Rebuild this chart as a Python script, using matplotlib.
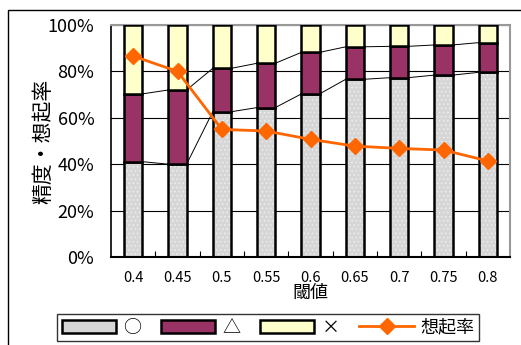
import matplotlib
matplotlib.use("Agg")
from matplotlib import pyplot as plt
from matplotlib.patches import Patch, Rectangle
from matplotlib.lines import Line2D
import numpy as np

plt.rcParams['font.family'] = ['Noto Sans CJK JP', 'DejaVu Sans']
plt.rcParams['hatch.linewidth'] = 0.6

# 閾値ごとの内訳（%）
thresholds = ['0.4', '0.45', '0.5', '0.55', '0.6', '0.65', '0.7', '0.75', '0.8']
maru = [41.1, 40.0, 62.6, 64.4, 70.3, 76.6, 77.3, 78.4, 79.6]
sankaku = [29.2, 32.0, 18.7, 19.1, 17.9, 14.0, 13.5, 13.0, 12.8]
batsu = [100 - a - b for a, b in zip(maru, sankaku)]
recall = [86.6, 80.0, 55.0, 54.3, 50.7, 47.8, 46.8, 46.1, 41.4]

fig = plt.figure(figsize=(5.21, 3.45), dpi=100)
ax = fig.add_axes([111/521, 88/345, 399/521, 232/345])

x = np.arange(len(thresholds))
w = 0.41
c_maru = '#d6d6d6'
c_sank = '#993366'
c_bats = '#ffffcc'

# 点々模様の下地
ax.bar(x, maru, w, color=c_maru, hatch='....', edgecolor='#eeeeee', linewidth=0, zorder=2)
ax.bar(x, maru, w, fill=False, edgecolor='black', linewidth=1.8, zorder=3)
ax.bar(x, sankaku, w, bottom=maru, color=c_sank, edgecolor='black', linewidth=1.8, zorder=3)
top2 = [a + b for a, b in zip(maru, sankaku)]
ax.bar(x, batsu, w, bottom=top2, color=c_bats, edgecolor='black', linewidth=1.8, zorder=3)

# 区分線
for lv in (maru, top2):
    for i in range(len(x) - 1):
        ax.plot([x[i] + w/2, x[i+1] - w/2], [lv[i], lv[i+1]], color='black', lw=0.7, zorder=2.5)

ax.plot(x, recall, color='#ff6600', lw=2, marker='D', markersize=8, zorder=5)

ax.set_xlim(-0.5, len(x) - 0.5)
ax.set_ylim(0, 100)
ax.set_yticks(range(0, 101, 20))
ax.set_yticklabels([f'{v}%' for v in range(0, 101, 20)], fontsize=13)
ax.set_xticks(x)
ax.set_xticklabels(thresholds, fontsize=10.5)
ax.set_xticks(np.arange(0.5, len(x) - 1, 1), minor=True)
ax.tick_params(axis='x', which='major', length=0, pad=10)
ax.tick_params(axis='x', which='minor', direction='in', length=4, width=0.8)
ax.tick_params(axis='y', length=0, pad=12)
ax.yaxis.grid(True, color='black', lw=0.8)
ax.set_axisbelow(True)
for s in ('top', 'right'):
    ax.spines[s].set_color('#999999')
    ax.spines[s].set_linewidth(1.5)
ax.spines['left'].set_linewidth(1.2)
ax.spines['bottom'].set_linewidth(1.5)

ax.set_ylabel('精度・想起率', fontsize=15, labelpad=-5)
ax.set_xlabel('閾値', fontsize=13, labelpad=-1)

# 外枠
fig.patches.append(Rectangle((8/521, -0.1), 1.2, 1 - 10/345 + 0.1, transform=fig.transFigure,
                             fill=False, edgecolor='black', lw=1))

handles = [
    Patch(facecolor=c_maru, edgecolor='black', linewidth=1.8),
    Patch(facecolor=c_sank, edgecolor='black', linewidth=1.8),
    Patch(facecolor=c_bats, edgecolor='black', linewidth=1.8),
    Line2D([], [], color='#ff6600', lw=2, marker='D', markersize=8),
]
leg = fig.legend(handles, ['○', '△', '×', '想起率'], ncol=4, loc='center',
                 bbox_to_anchor=(0.515, 0.05), fontsize=13, frameon=True, fancybox=False,
                 edgecolor='black', handlelength=3.0, handleheight=0.7, columnspacing=1.1,
                 handletextpad=0.4, borderpad=0.25, borderaxespad=0)
leg.get_frame().set_linewidth(1)

fig.savefig('out.png', dpi=100)
